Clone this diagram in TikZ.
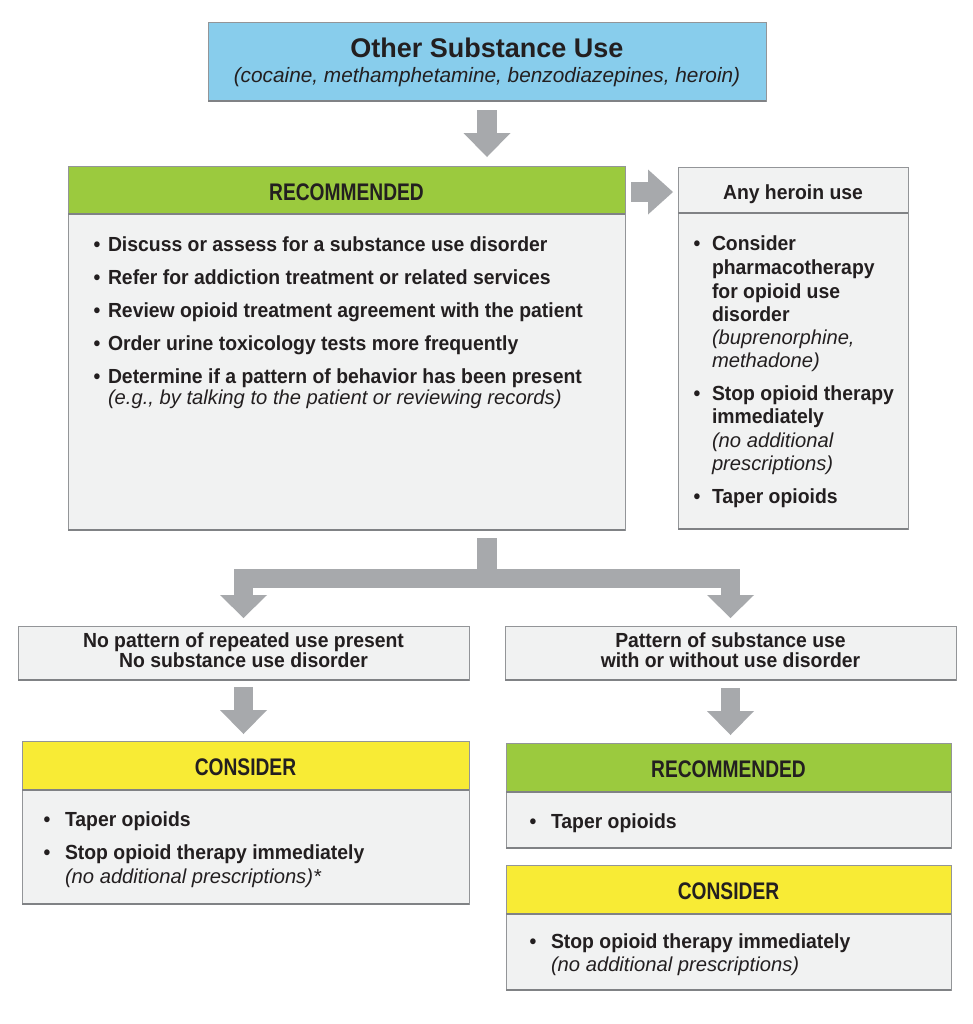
\documentclass[tikz,border=0pt]{standalone}
\usepackage{fontspec}
\setmainfont{Liberation Sans}
\newfontfamily\condfam{Liberation Sans}[FakeStretch=0.8]
\newfontfamily\bodyfam{Liberation Sans}[FakeStretch=0.95]
\usetikzlibrary{arrows.meta,calc}
\definecolor{topblue}{HTML}{88CDEC}
\definecolor{recgreen}{HTML}{9BCA3E}
\definecolor{consyellow}{HTML}{F8EB35}
\definecolor{bodygray}{HTML}{F1F2F2}
\definecolor{bordergray}{HTML}{939598}
\definecolor{darkline}{HTML}{808285}
\definecolor{arrowgray}{HTML}{A7A9AC}
\definecolor{txtc}{HTML}{231F20}
\newcommand\ftitle{\bfseries\fontsize{13.5}{16}\selectfont}
\newcommand\fbody{\bodyfam\bfseries\fontsize{10.2}{12}\selectfont}
\newcommand\fital{\itshape\fontsize{10.1}{12}\selectfont}
\newcommand\fsub{\itshape\fontsize{10.4}{12}\selectfont}
\newcommand\fhead{\condfam\bfseries\fontsize{12}{14}\selectfont}
\newcommand\putline[4]{\node[#1] (#2) at (#3) {#4};}
\begin{document}
\begin{tikzpicture}[x=0.5pt,y=-0.5pt,
  panel/.style={draw=bordergray, line width=0.5pt, fill=bodygray, inner sep=0pt, outer sep=0pt},
  hdr/.style={draw=bordergray, line width=0.5pt, inner sep=0pt, outer sep=0pt, text=txtc, font=\fhead, text height=10pt, text depth=0pt},
  sepline/.style={draw=darkline, line width=1pt},
  botline/.style={draw=darkline, line width=1.2pt},
  txt/.style={inner sep=0pt, outer sep=0pt, text=txtc, font=\fbody, anchor=base west},
  itx/.style={txt, font=\fital},
  bul/.style={inner sep=0pt, outer sep=0pt, text=txtc, font=\fbody, anchor=base},
  ctx/.style={inner sep=0pt, outer sep=0pt, text=txtc, font=\fbody, anchor=base},
  blk/.style={draw=arrowgray, line width=9.75pt, line cap=butt,
     -{Triangle[width=23.5pt,length=12pt,line width=0pt]}},
  blkline/.style={draw=arrowgray, line width=9.75pt, line cap=butt, line join=miter,
     -{Triangle[width=23.5pt,length=11.5pt,line width=0pt]}}
]
\useasboundingbox[fill=white] (0,0) rectangle (973,1024);

% ---------- top box ----------
\node[panel, fill=topblue, draw=bordergray, minimum width=279pt, minimum height=39.5pt] (top) at (487,61.5) {};
\draw[botline] (top.south west) -- (top.south east);
\node[ctx, font=\ftitle] (title) at (487,57) {Other Substance Use};
\node[ctx, font=\fsub] (sub) at (487,82) {(cocaine, methamphetamine, benzodiazepines, heroin)};

% ---------- recommended (main) ----------
\node[panel, minimum width=278.5pt, minimum height=182pt] (rec) at (346.5,348) {};
\node[hdr, fill=recgreen, minimum width=278.5pt, minimum height=24pt, anchor=north] (rech) at (rec.north) {RECOMMENDED};
\draw[sepline] (rech.south west) -- (rech.south east);
\draw[botline] (rec.south west) -- (rec.south east);
\putline{bul}{rb1}{97,251}{•}
\putline{txt}{rt1}{108,251}{Discuss or assess for a substance use disorder}
\putline{bul}{rb2}{97,284}{•}
\putline{txt}{rt2}{108,284}{Refer for addiction treatment or related services}
\putline{bul}{rb3}{97,317}{•}
\putline{txt}{rt3}{108,317}{Review opioid treatment agreement with the patient}
\putline{bul}{rb4}{97,350}{•}
\putline{txt}{rt4}{108,350}{Order urine toxicology tests more frequently}
\putline{bul}{rb5}{97,383}{•}
\putline{txt}{rt5}{108,383}{Determine if a pattern of behavior has been present}
\putline{itx}{ri5}{108,404}{(e.g., by talking to the patient or reviewing records)}

% ---------- any heroin use ----------
\node[panel, minimum width=115pt, minimum height=181pt] (hero) at (793,348) {};
\node[hdr, fill=bodygray, font=\fbody, text height=9pt, text depth=0pt, minimum width=115pt, minimum height=23pt, anchor=north] (heroh) at (hero.north) {Any heroin use};
\draw[sepline] (heroh.south west) -- (heroh.south east);
\draw[botline] (hero.south west) -- (hero.south east);
\putline{bul}{hb1}{697,250}{•}
\putline{txt}{ht1}{712,250}{Consider}
\putline{txt}{ht2}{712,274}{pharmacotherapy}
\putline{txt}{ht3}{712,298}{for opioid use}
\putline{txt}{ht4}{712,321}{disorder}
\putline{itx}{hi1}{712,344}{(buprenorphine,}
\putline{itx}{hi2}{712,367}{methadone)}
\putline{bul}{hb2}{697,400}{•}
\putline{txt}{ht5}{712,400}{Stop opioid therapy}
\putline{txt}{ht6}{712,423}{immediately}
\putline{itx}{hi3}{712,447}{(no additional}
\putline{itx}{hi4}{712,470}{prescriptions)}
\putline{bul}{hb3}{697,503}{•}
\putline{txt}{ht7}{712,503}{Taper opioids}

% ---------- second row ----------
\node[panel, minimum width=225.5pt, minimum height=27pt] (left1) at (243.5,653) {};
\draw[botline] (left1.south west) -- (left1.south east);
\putline{ctx}{l1a}{243.5,647}{No pattern of repeated use present}
\putline{ctx}{l1b}{243.5,667}{No substance use disorder}

\node[panel, minimum width=225.5pt, minimum height=27pt] (right1) at (730.5,653) {};
\draw[botline] (right1.south west) -- (right1.south east);
\putline{ctx}{r1a}{730.5,647}{Pattern of substance use}
\putline{ctx}{r1b}{730.5,667}{with or without use disorder}

% ---------- consider (left) ----------
\node[panel, minimum width=223.5pt, minimum height=81.5pt] (consL) at (245.5,822.5) {};
\node[hdr, fill=consyellow, minimum width=223.5pt, minimum height=24.5pt, anchor=north] (consLh) at (consL.north) {CONSIDER};
\draw[sepline] (consLh.south west) -- (consLh.south east);
\draw[botline] (consL.south west) -- (consL.south east);
\putline{bul}{cb1}{47,826}{•}
\putline{txt}{ct1}{65,826}{Taper opioids}
\putline{bul}{cb2}{47,859}{•}
\putline{txt}{ct2}{65,859}{Stop opioid therapy immediately}
\putline{itx}{ci2}{65,883}{(no additional prescriptions)*}

% ---------- recommended (right) ----------
\node[panel, minimum width=222.5pt, minimum height=52.5pt] (recR) at (728.5,795.5) {};
\node[hdr, fill=recgreen, minimum width=222.5pt, minimum height=24.5pt, anchor=north] (recRh) at (recR.north) {RECOMMENDED};
\draw[sepline] (recRh.south west) -- (recRh.south east);
\draw[botline] (recR.south west) -- (recR.south east);
\putline{bul}{rrb1}{533,828}{•}
\putline{txt}{rrt1}{551,828}{Taper opioids}

% ---------- consider (right) ----------
\node[panel, minimum width=222.5pt, minimum height=62.5pt] (consR) at (728.5,927.5) {};
\node[hdr, fill=consyellow, minimum width=222.5pt, minimum height=24.5pt, anchor=north] (consRh) at (consR.north) {CONSIDER};
\draw[sepline] (consRh.south west) -- (consRh.south east);
\draw[botline] (consR.south west) -- (consR.south east);
\putline{bul}{crb1}{533,948}{•}
\putline{txt}{crt1}{551,948}{Stop opioid therapy immediately}
\putline{itx}{cri1}{551,971}{(no additional prescriptions)}

% ---------- connectors ----------
\draw[blk, shorten <=4.5pt, shorten >=4.5pt] (top.south) -- (top.south |- rec.north);
\coordinate (a2s) at ($(rec.north east)+(0,26)$);
\draw[blk, line width=10pt, -{Triangle[width=22.5pt,length=12.5pt,line width=0pt]}, shorten <=3pt, shorten >=2.5pt] (a2s) -- (a2s -| hero.west);
\coordinate (b0) at ($(rec.south -| top.south)+(0,8)$);
\coordinate (bj) at ($(rec.south -| top.south)+(0,48.5)$);
\draw[blkline, shorten >=4pt] (b0) -- (bj) -| (left1.north);
\draw[blkline, shorten >=4pt] (bj) -| (right1.north);
\draw[blk, shorten <=3.5pt, shorten >=3.5pt] (left1.south) -- (left1.south |- consL.north);
\draw[blk, shorten <=4pt, shorten >=4pt] (right1.south) -- (right1.south |- recR.north);
\end{tikzpicture}
\end{document}
